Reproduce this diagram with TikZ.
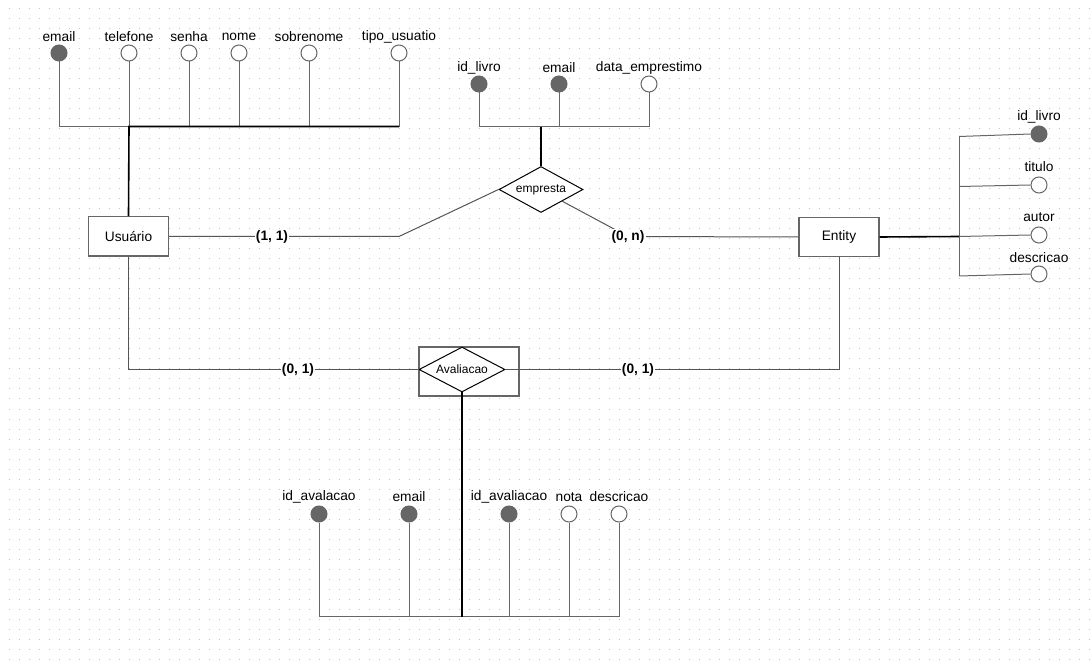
\documentclass[tikz,border=0pt]{standalone}
\usepackage{fontspec}
\setmainfont{Liberation Sans}
\usetikzlibrary{shapes.geometric}
\definecolor{lg}{HTML}{666666}
\definecolor{eg}{HTML}{555555}
\definecolor{gridc}{HTML}{C4C4C4}
\begin{document}
\begin{tikzpicture}[x=0.75pt,y=-0.75pt,
  gridline/.style={draw=gridc, line width=0.75pt, dash pattern=on 0.75pt off 6.75pt},
  lbl/.style={font=\fontsize{10.3}{12}\selectfont, inner sep=0pt},
  attr/.style={circle, draw=lg, fill=white, line width=0.75pt, minimum size=12pt, inner sep=0pt},
  keyattr/.style={attr, fill=lg},
  ent/.style={draw=lg, line width=1pt, fill=white, minimum width=60pt, minimum height=29.5pt, inner sep=0pt, font=\fontsize{10.3}{12}\selectfont},
  rel/.style={diamond, draw=black, line width=0.75pt, fill=white, inner sep=0pt, font=\fontsize{9}{11}\selectfont},
  aline/.style={draw=lg, line width=0.75pt},
  kline/.style={draw=black, line width=1.2pt},
  eline/.style={draw=eg, line width=0.75pt},
  card/.style={font=\bfseries\fontsize{10.3}{12}\selectfont, fill=white, inner sep=1pt}]
\useasboundingbox (0,0) rectangle (1092,666);
\fill[white] (0,0) rectangle (1092,666);
\foreach \j in {0,...,65} \draw[gridline] (8.5,9+10*\j) -- (1092,9+10*\j);

% ---------- entities and relationships ----------
\node[ent] (usuario) at (128.5,236.5) {Usuário};
\node[ent] (entity) at (839,237) {Entity};
\node[rel, aspect=1.83, minimum width=63pt, minimum height=34.5pt] (empresta) at (541,189.5) {empresta};
\node[draw=lg, line width=1pt, fill=white, minimum width=75pt, minimum height=36.75pt, inner sep=0pt] (avbox) at (469,371.5) {};
\node[rel, aspect=1.91, minimum width=64.5pt, minimum height=33.75pt] (avd) at (462,369.5) {Avaliacao};

% ---------- Usuario attributes ----------
\node[keyattr] (ua1) at (59,53) {};
\node[attr] (ua2) at (129,53) {};
\node[attr] (ua3) at (189,53) {};
\node[attr] (ua4) at (239,53) {};
\node[attr] (ua5) at (309,53) {};
\node[attr] (ua6) at (399,53) {};
\node[lbl] (ul1) at (59,37) {email};
\node[lbl] (ul2) at (129,37) {telefone};
\node[lbl] (ul3) at (189,37) {senha};
\node[lbl] (ul4) at (239,37) {nome};
\node[lbl] (ul5) at (309,37) {sobrenome};
\node[lbl] (ul6) at (399,37) {tipo\_usuatio};
\coordinate (ubus) at (129,126.5);
\foreach \i in {1,...,6} \draw[aline] (ua\i) |- (ubus);
\draw[kline] (usuario.north) -- (ubus) -- (ubus -| ua6);

% ---------- empresta attributes ----------
\node[keyattr] (ea1) at (479,84) {};
\node[keyattr] (ea2) at (559,84) {};
\node[attr] (ea3) at (649,84) {};
\node[lbl] (el1) at (479,68) {id\_livro};
\node[lbl] (el2) at (559,68) {email};
\node[lbl] (el3) at (649,68) {data\_emprestimo};
\coordinate (ebus) at (541,127);
\foreach \i in {1,2,3} \draw[aline] (ea\i) |- (ebus);
\draw[kline] (empresta.north) -- (ebus);

% ---------- Entity attributes ----------
\node[keyattr] (ta1) at (1039,134) {};
\node[attr] (ta2) at (1039,185) {};
\node[attr] (ta3) at (1039,235) {};
\node[attr] (ta4) at (1039,274) {};
\node[lbl] (tl1) at (1039,117) {id\_livro};
\node[lbl] (tl2) at (1039,167) {titulo};
\node[lbl] (tl3) at (1039,217) {autor};
\node[lbl] (tl4) at (1039,258) {descricao};
\coordinate (tb1) at (959,136.5);
\coordinate (tb2) at (959,186.5);
\coordinate (tb3) at (959,236.5);
\coordinate (tb4) at (959,276);
\draw[aline] (tb1) -- (tb4);
\foreach \i in {1,...,4} \draw[aline] (tb\i) -- (ta\i.west);
\draw[kline] (entity.east) -- (tb3);

% ---------- Avaliacao attributes ----------
\node[keyattr] (va1) at (319,514) {};
\node[keyattr] (va2) at (409,514) {};
\node[keyattr] (va3) at (509,514) {};
\node[attr] (va4) at (569,514) {};
\node[attr] (va5) at (619,514) {};
\node[lbl] (vl1) at (319,497) {id\_avalacao};
\node[lbl] (vl2) at (409,497) {email};
\node[lbl] (vl3) at (509,497) {id\_avaliacao};
\node[lbl] (vl4) at (569,497) {nota};
\node[lbl] (vl5) at (619,497) {descricao};
\coordinate (vbus) at (462,616.5);
\foreach \i in {1,...,5} \draw[aline] (va\i) |- (vbus);
\draw[kline] (avd.south) -- (vbus);

% ---------- relationship connectors ----------
\coordinate (c1) at (399,236.5);
\coordinate (c2) at (628,236.5);
\draw[eline] (usuario.east) -- (c1) -- (empresta.west);
\draw[eline] (empresta.south east) -- (c2) -- (entity.west);
\draw[eline] (usuario.south) |- (avd.west);
\draw[eline] (avd.east) -| (entity.south);

\node[card] (k1) at (272,236.5) {(1, 1)};
\node[card] (k2) at (628,236.5) {(0, n)};
\node[card] (k3) at (298,369.5) {(0, 1)};
\node[card] (k4) at (638,369.5) {(0, 1)};
\end{tikzpicture}
\end{document}
